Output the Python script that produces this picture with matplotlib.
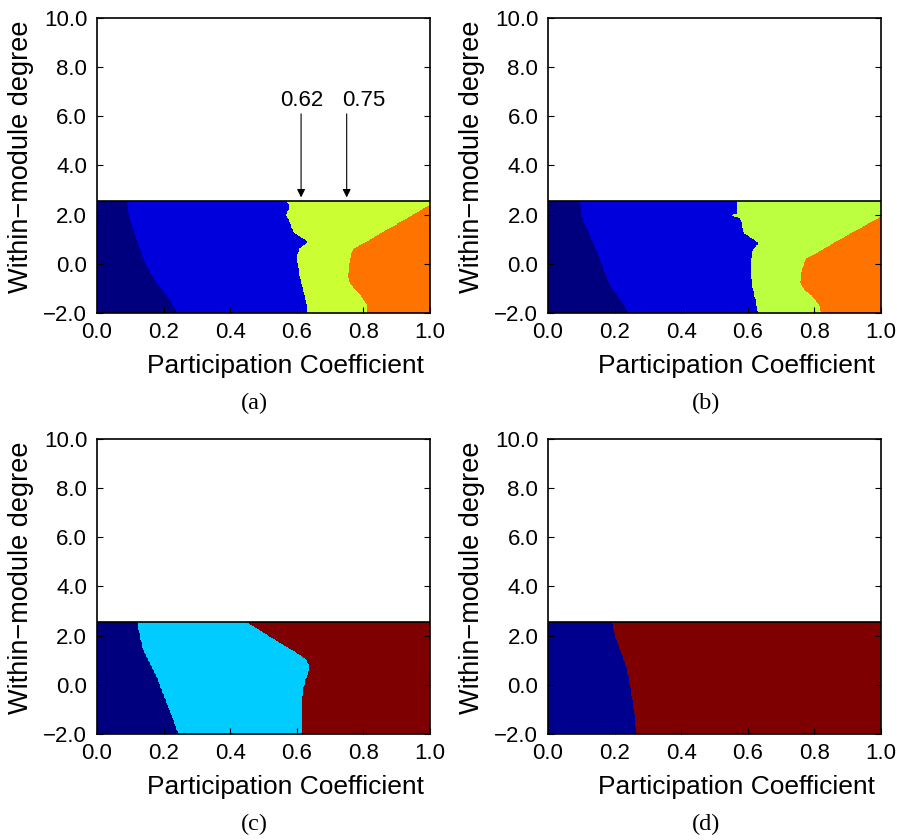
import numpy as np
import matplotlib.pyplot as plt
from matplotlib.colors import ListedColormap
from matplotlib.ticker import FuncFormatter

plt.rcParams['font.family'] = ['Liberation Sans', 'DejaVu Sans']

# region boundaries: x of each boundary at given y (within-module degree)
# panel (a)
a_b1_y = [2.55, 1.92, 0.97, 0.03, -0.78, -1.46, -2.0]
a_b1_x = [0.088, 0.096, 0.118, 0.143, 0.178, 0.218, 0.240]
a_b2_y = [2.55, 2.32, 1.98, 1.78, 1.51, 1.24, 0.90, 0.63, 0.30, -0.38, -1.05, -1.59, -2.0]
a_b2_x = [0.571, 0.579, 0.567, 0.577, 0.584, 0.594, 0.634, 0.609, 0.601, 0.607, 0.619, 0.629, 0.632]
a_b3_y = [2.55, 2.39, 0.59, 0.30, -0.11, -0.51, -0.78, -1.05, -1.32, -1.66, -2.0]
a_b3_x = [1.02, 1.0, 0.770, 0.762, 0.758, 0.754, 0.760, 0.775, 0.795, 0.810, 0.812]

# panel (b)
b_b1_y = [2.55, 1.92, 1.11, 0.30, -0.24, -0.92, -1.46, -2.0]
b_b1_x = [0.095, 0.100, 0.126, 0.151, 0.166, 0.186, 0.216, 0.241]
b_b2_y = [2.55, 2.04, 1.98, 1.84, 1.65, 1.24, 1.04, 0.84, 0.57, 0.16, -0.51, -1.05, -1.59, -2.0]
b_b2_x = [0.568, 0.568, 0.550, 0.578, 0.583, 0.588, 0.613, 0.633, 0.616, 0.610, 0.610, 0.616, 0.626, 0.630]
b_b3_y = [2.55, 1.92, 0.19, -0.11, -0.38, -0.78, -1.05, -1.32, -1.66, -2.0]
b_b3_x = [1.082, 1.0, 0.774, 0.767, 0.761, 0.759, 0.769, 0.794, 0.814, 0.821]

# panel (c)
c_b1_y = [2.55, 1.97, 1.42, 0.88, 0.34, -0.21, -0.89, -1.43, -2.0]
c_b1_x = [0.120, 0.128, 0.138, 0.158, 0.178, 0.193, 0.213, 0.228, 0.243]
c_b2_y = [2.55, 1.22, 1.02, 0.81, 0.47, 0.20, -0.21, -0.48, -2.0]
c_b2_x = [0.449, 0.609, 0.629, 0.636, 0.635, 0.627, 0.619, 0.617, 0.617]

# panel (d)
d_b1_y = [2.54, 1.97, 1.40, 0.86, 0.32, -0.23, -0.91, -1.46, -2.0]
d_b1_x = [0.191, 0.201, 0.216, 0.231, 0.241, 0.248, 0.256, 0.261, 0.264]

panels = [
    ('(a)', [(a_b1_y, a_b1_x), (a_b2_y, a_b2_x), (a_b3_y, a_b3_x)],
     ['#00007F', '#0000DC', '#CCFF33', '#FF7300']),
    ('(b)', [(b_b1_y, b_b1_x), (b_b2_y, b_b2_x), (b_b3_y, b_b3_x)],
     ['#00007F', '#0000DC', '#BBFF40', '#FF7300']),
    ('(c)', [(c_b1_y, c_b1_x), (c_b2_y, c_b2_x)],
     ['#00007F', '#00CCFF', '#7F0000']),
    ('(d)', [(d_b1_y, d_b1_x)],
     ['#00008F', '#7F0000']),
]

arrow_x = [0.613, 0.75]
arrow_labels = ['0.62', '0.75']
label_x = [0.616, 0.80]

y_top = 2.55
xs = np.linspace(0, 1, 500)
ys = np.linspace(-2, y_top, 300)

fmt = FuncFormatter(lambda v, p: f'{v:.1f}'.replace('-', '\u2212'))

fig = plt.figure(figsize=(8.97, 8.4), dpi=100)
boxes = [(0.1081, 0.6274), (0.6109, 0.6274), (0.1081, 0.1262), (0.6109, 0.1262)]
W, H = 0.3712, 0.3512

for (tag, bounds, cols), (l, b) in zip(panels, boxes):
    ax = fig.add_axes([l, b, W, H])
    X, Y = np.meshgrid(xs, ys)
    cls = np.zeros_like(X)
    for by, bx in bounds:
        order = np.argsort(by)
        bline = np.interp(ys, np.array(by)[order], np.array(bx)[order])
        cls += X >= bline[:, None]
    ax.imshow(cls, origin='lower', extent=[0, 1, -2, y_top], aspect='auto',
              interpolation='nearest', cmap=ListedColormap(cols),
              vmin=-0.5, vmax=len(cols) - 0.5)
    ax.plot([0, 1], [y_top, y_top], color='black', lw=1.2)
    ax.set_xlim(0, 1)
    ax.set_ylim(-2, 10)
    ax.set_xticks(np.arange(0, 1.01, 0.2))
    ax.set_yticks(np.arange(-2, 10.1, 2))
    ax.xaxis.set_major_formatter(fmt)
    ax.yaxis.set_major_formatter(fmt)
    ax.tick_params(direction='in', length=4, width=0.8, labelsize=16,
                   right=True, top=False)
    ax.tick_params(axis='x', pad=6.5)
    ax.tick_params(axis='y', pad=7)
    for s in ax.spines.values():
        s.set_linewidth(1.2)
    ax.set_xlabel('Participation Coefficient', fontsize=19)
    ax.xaxis.set_label_coords(0.566, -0.14)
    ax.set_ylabel('Within\u2212module degree', fontsize=19.5)
    ax.yaxis.set_label_coords(-0.19, 0.53)
    ax.text(0.474, -0.308, tag, transform=ax.transAxes, ha='center', va='center',
            fontsize=17.5, family='Liberation Serif')

    if tag == '(a)':
        for ax_x, lab, lx in zip(arrow_x, arrow_labels, label_x):
            ax.annotate('', xy=(ax_x, 2.7), xytext=(ax_x, 6.1),
                        arrowprops=dict(arrowstyle='-|>', color='black', lw=0.8,
                                        mutation_scale=12, shrinkA=0, shrinkB=0))
            ax.text(lx, 6.64, lab, ha='center', va='center', fontsize=16)

fig.savefig('out.png', dpi=100)
